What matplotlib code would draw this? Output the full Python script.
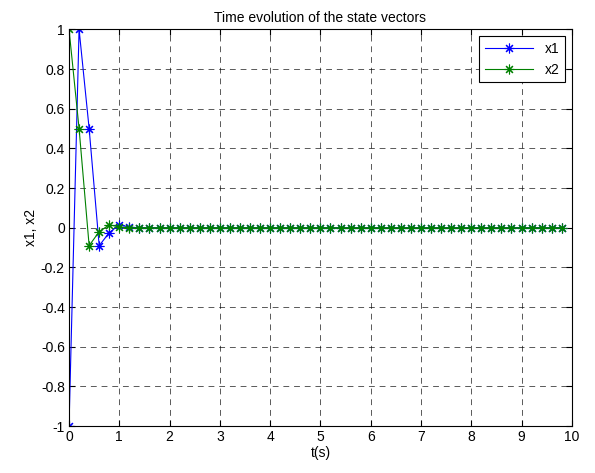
import numpy as np
import matplotlib.pyplot as plt

plt.rcParams['font.family'] = ['Liberation Sans', 'DejaVu Sans']

t = [round(0.2 * k, 1) for k in range(50)]
x1_head = [-1.0, 1.0, 0.5, -0.09, -0.025, 0.015, 0.003]
x2_head = [1.0, 0.5, -0.09, -0.02, 0.015, 0.004, 0.0]
x1 = x1_head + [0.0] * (len(t) - len(x1_head))
x2 = x2_head + [0.0] * (len(t) - len(x2_head))

fig = plt.figure(figsize=(5.95, 4.73), dpi=100)
ax = fig.add_axes([0.116, 0.099, 0.845, 0.839])

star = (8, 2, 0)  # asterisk like matlab '*'
ax.plot(t, x1, color='blue', marker=star, markersize=7, markeredgewidth=0.8,
        linewidth=0.8, label='x1')
ax.plot(t, x2, color='green', marker=star, markersize=7, markeredgewidth=0.8,
        linewidth=0.8, label='x2')

ax.set_xlim(0, 10)
ax.set_ylim(-1, 1)
ax.set_xticks(np.arange(0, 11, 1))
ax.set_yticks(np.round(np.arange(-1, 1.01, 0.2), 1))
ax.set_yticklabels(['-1', '-0.8', '-0.6', '-0.4', '-0.2', '0', '0.2', '0.4', '0.6', '0.8', '1'])
ax.grid(True, color='black', linestyle=(0, (6, 5)), linewidth=0.7, alpha=0.65)
ax.tick_params(direction='in', top=True, right=True, labelsize=10, length=4, pad=3)
for s in ax.spines.values():
    s.set_linewidth(0.8)

ax.set_title('Time evolution of the state vectors', fontsize=10, pad=5)
ax.set_xlabel('t(s)', fontsize=10, labelpad=1)
ax.set_ylabel('x1, x2', fontsize=10, labelpad=2)

leg = ax.legend(loc='upper right', fontsize=10, fancybox=False, framealpha=1,
                edgecolor='black', borderaxespad=0.5, handlelength=3.5,
                labelspacing=0.5)
leg.get_frame().set_linewidth(0.8)

fig.savefig('out.png', dpi=100)
